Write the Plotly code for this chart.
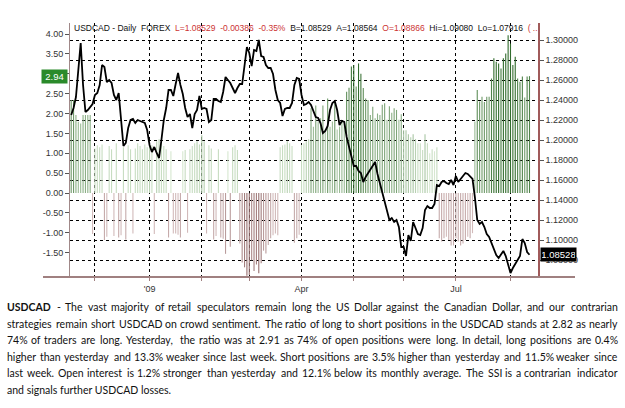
import numpy as np
import pandas as pd
import plotly.graph_objects as go

# ---------------- data ----------------
start_date = "2008-11-17"

usdcad_close = [
    1.225, 1.232, 1.243, 1.268, 1.297, 1.255, 1.228, 1.230, 1.233, 1.236,
    1.245, 1.247, 1.255, 1.275, 1.273, 1.258, 1.260, 1.257, 1.245, 1.240,
    1.247, 1.218, 1.194, 1.197, 1.212, 1.220, 1.221, 1.217, 1.220, 1.219,
    1.218, 1.217, 1.210, 1.195, 1.188, 1.193, 1.187, 1.182, 1.200, 1.220,
    1.232, 1.250, 1.250, 1.244, 1.256, 1.267, 1.255, 1.246, 1.232, 1.223,
    1.226, 1.212, 1.226, 1.230, 1.244, 1.231, 1.232, 1.231, 1.218, 1.220,
    1.241, 1.241, 1.239, 1.238, 1.248, 1.263, 1.260, 1.257, 1.252, 1.247,
    1.252, 1.256, 1.256, 1.278, 1.293, 1.287, 1.274, 1.290, 1.289, 1.300,
    1.284, 1.283, 1.275, 1.272, 1.272, 1.266, 1.250, 1.240, 1.237, 1.224,
    1.231, 1.232, 1.232, 1.237, 1.255, 1.262, 1.261, 1.245, 1.235, 1.236,
    1.238, 1.235, 1.228, 1.223, 1.222, 1.217, 1.207, 1.209, 1.214, 1.230,
    1.237, 1.239, 1.230, 1.215, 1.219, 1.218, 1.203, 1.193, 1.182, 1.174,
    1.174, 1.169, 1.167, 1.158, 1.163, 1.167, 1.171, 1.174, 1.178, 1.166,
    1.157, 1.146, 1.138, 1.128, 1.120, 1.122, 1.118, 1.120, 1.113, 1.093,
    1.093, 1.084, 1.105, 1.099, 1.118, 1.112, 1.106, 1.105, 1.112, 1.130,
    1.134, 1.132, 1.132, 1.136, 1.155, 1.154, 1.158, 1.159, 1.157, 1.156,
    1.160, 1.155, 1.164, 1.158, 1.161, 1.163, 1.167, 1.166, 1.163, 1.161,
    1.143, 1.120, 1.116, 1.118, 1.113, 1.106, 1.103, 1.097, 1.089, 1.085,
    1.082, 1.086, 1.089, 1.084, 1.076, 1.067, 1.072, 1.076, 1.081, 1.084,
    1.101, 1.097, 1.088, 1.08528,
]

ssi_ratio = [
    2.34, 2.34, 1.96, 1.79, 1.75, 1.96, 1.96, 1.96, 1.96, -1.03,
    1.12, 1.20, 1.15, 1.22, -1.18, -1.10, 1.18, 1.10, -1.08, 1.25,
    -1.12, -1.06, 1.15, -1.17, 1.20, 1.10, -1.02, 1.12, 1.25, 1.18,
    1.10, 1.22, 1.15, 1.28, 1.20, -1.03, 1.30, 1.35, 1.25, 1.18,
    1.10, -1.12, 1.05, -1.02, -1.02, -1.05, -1.12, 1.05, 1.08, -1.00,
    1.10, 1.18, 1.25, 1.30, 1.22, 1.45, 1.30, -1.02, 1.20, 1.12,
    -1.17, -1.08, 1.10, -1.12, -1.15, -1.53, 1.05, -1.35, 1.15, 1.20,
    1.08, -1.27, -1.75, -1.87, -2.08, -2.06, -1.69, -1.96, -1.80, -2.02,
    -1.77, -1.45, -1.52, -1.31, -1.14, -1.06, -1.02, -1.06, 1.15, 1.20,
    1.22, 1.30, 1.25, 1.18, -1.25, -1.14, -1.05, 1.21, 1.25, 1.30,
    1.35, 2.13, 1.67, 2.20, 1.80, 1.88, 2.20, 1.60, 2.38, 1.67,
    1.80, 2.30, 1.60, 1.67, 1.80, 1.75, 2.55, 2.65, 3.18, 3.22,
    2.68, 3.26, 3.00, 2.64, 2.38, 2.34, 1.96, 2.17, 1.88, 2.00,
    1.96, 2.22, 2.26, 1.84, 2.18, 2.02, 2.13, 2.09, 1.84, 1.98,
    1.58, 1.58, 1.48, 1.40, 1.48, 1.36, 1.25, 1.25, 1.08, 1.48,
    1.25, 1.00, 1.10, 1.05, 1.15, -1.14, -1.22, -1.14, -1.10, -1.18,
    -1.32, -1.32, -1.14, -1.22, -1.32, -1.27, -1.18, -1.10, -1.14, -1.01,
    1.80, 2.59, 2.30, 2.42, 2.29, 2.42, 2.42, 2.88, 3.39, 3.30,
    3.26, 3.13, 3.39, 3.51, 3.97, 3.76, 3.22, 3.43, 2.88, 2.80,
    2.93, 2.40, 2.93, 2.94,
]

month_ticks = ["2008-12-01", "2009-01-01", "2009-02-02", "2009-03-02", "2009-04-01",
               "2009-05-01", "2009-06-01", "2009-07-01", "2009-08-03"]
month_labels = ["", "'09", "", "", "Apr", "", "", "Jul", ""]

ssi_ticks = [4.0, 3.5, 3.0, 2.5, 2.0, 1.5, 1.0, 0.5, 0.0, -0.5, -1.0, -1.5]
price_ticks = [1.30, 1.28, 1.26, 1.24, 1.22, 1.20, 1.18, 1.16, 1.14, 1.12, 1.10, 1.08]

last_ssi = 2.94
last_price = 1.08528

header_parts = [
    ("USDCAD - Daily  FOREX  ", "#111111"),
    ("L=1.08529  -0.00386  -0.35%  ", "#cc3333"),
    ("B=1.08529  A=1.08564  ", "#111111"),
    ("O=1.08866  ", "#cc3333"),
    ("Hi=1.09080  Lo=1.07916  ", "#111111"),
    ("( ..", "#cc3333"),
]

comment_lines = [
    "USDCAD - The vast majority of retail speculators remain long the US Dollar against the Canadian Dollar, and our contrarian",
    "strategies remain short USDCAD on crowd sentiment. The ratio of long to short positions in the USDCAD stands at 2.82 as nearly",
    "74% of traders are long. Yesterday, the ratio was at 2.91 as 74% of open positions were long. In detail, long positions are 0.4%",
    "higher than yesterday and 13.3% weaker since last week. Short positions are 3.5% higher than yesterday and 11.5% weaker since",
    "last week. Open interest is 1.2% stronger than yesterday and 12.1% below its monthly average. The SSI is a contrarian indicator",
    "and signals further USDCAD losses.",
]

# ---------------- figure ----------------
dates = pd.bdate_range(start_date, periods=len(usdcad_close))
ssi = np.array(ssi_ratio)


def mix(c0, c1, t):
    return "rgb(%d,%d,%d)" % tuple(int(round(a + (b - a) * t)) for a, b in zip(c0, c1))


# bars drawn as thin vertical segments, grouped by colour shade
NPOS, NNEG = 12, 6
groups = {}
for d, v in zip(dates, ssi):
    if v >= 0:
        t = min(max((v - 1.0) / 2.3, 0), 1) ** 0.9
        key = ("p", int(round(t * (NPOS - 1))))
    else:
        t = min(max((abs(v) - 1.0) / 1.1, 0), 1)
        key = ("n", int(round(t * (NNEG - 1))))
    xs, ys = groups.setdefault(key, ([], []))
    xs += [d, d, None]
    ys += [0, v, None]

fig = go.Figure()
for (sign, k), (xs, ys) in sorted(groups.items()):
    if sign == "p":
        col = mix((214, 232, 208), (50, 108, 45), k / (NPOS - 1))
    else:
        col = mix((210, 186, 186), (150, 110, 110), k / (NNEG - 1))
    fig.add_trace(go.Scatter(x=xs, y=ys, mode="lines", yaxis="y",
                             line=dict(color=col, width=1.1), showlegend=False,
                             hoverinfo="skip", connectgaps=False))

fig.add_trace(go.Scatter(x=dates, y=usdcad_close, mode="lines", yaxis="y2",
                         line=dict(color="#000000", width=1.8), showlegend=False))

W, H = 625, 408
L, R, T, B = 70, 87, 23, 131
pw, ph = W - L - R, H - T - B


def px(x):
    return (x - L) / pw


def py(y):
    return (H - B - y) / ph


label_font = dict(family="Liberation Sans, Arial, sans-serif", size=9, color="#333333")

fig.update_layout(
    width=W, height=H,
    margin=dict(l=L, r=R, t=T, b=B, pad=0),
    paper_bgcolor="white", plot_bgcolor="white",
    xaxis=dict(
        type="date",
        range=["2008-11-14 12:00", "2009-08-18 14:00"],
        rangebreaks=[dict(bounds=["sat", "mon"])],
        tickmode="array", tickvals=month_ticks, ticktext=month_labels,
        showgrid=True, gridcolor="#000000", griddash="dot", gridwidth=1,
        ticks="outside", ticklen=3, tickcolor="#a08080",
        showline=False, zeroline=False, tickfont=label_font,
    ),
    yaxis=dict(
        range=[-2.113, 4.277],
        tickmode="array", tickvals=ssi_ticks,
        ticktext=["%.2f" % v for v in ssi_ticks],
        showgrid=False, zeroline=False,
        showline=True, linecolor="#a08888", linewidth=1,
        ticks="outside", ticklen=4, tickcolor="#555555",
        tickfont=label_font,
    ),
    yaxis2=dict(
        range=[1.063, 1.317], overlaying="y", side="right",
        tickmode="array", tickvals=price_ticks,
        ticktext=["%.5f" % v for v in price_ticks],
        showgrid=True, gridcolor="#000000", griddash="dot", gridwidth=1,
        zeroline=False,
        showline=True, linecolor="#a05a5a", linewidth=1.5,
        ticks="outside", ticklen=4, tickcolor="#555555",
        tickfont=label_font,
    ),
)

# bottom axis bar extending past both axes
fig.add_shape(type="line", xref="paper", yref="paper",
              x0=px(43), x1=px(575), y0=0, y1=0,
              line=dict(color="#a08080", width=2))

# header
header = "".join('<span style="color:%s">%s</span>' % (c, t.replace("  ", " \u00a0"))
                 for t, c in header_parts)
fig.add_annotation(xref="paper", yref="paper", x=px(72), y=py(28),
                   xanchor="left", yanchor="middle", showarrow=False,
                   text=header, font=dict(family="Liberation Sans, Arial, sans-serif", size=8.5))

# last value markers
fig.add_annotation(xref="paper", yref="y", x=px(68), y=last_ssi,
                   xanchor="right", yanchor="middle", showarrow=False,
                   text="%.2f" % last_ssi, bgcolor="#2a8a2a",
                   font=dict(family="Liberation Sans, Arial, sans-serif", size=9.5, color="white"),
                   borderpad=1, width=23, align="center")
fig.add_annotation(xref="paper", yref="y2", x=px(540), y=last_price,
                   xanchor="left", yanchor="middle", showarrow=False,
                   text="%.5f" % last_price, bgcolor="#000000",
                   font=dict(family="Liberation Sans, Arial, sans-serif", size=9.5, color="white"),
                   borderpad=1, width=33, align="center")

# ---- commentary, justified by placing each word ----
LATO_W = {
    'a': .51, 'b': .565, 'c': .46, 'd': .565, 'e': .53, 'f': .33, 'g': .51, 'h': .565,
    'i': .245, 'j': .245, 'k': .52, 'l': .245, 'm': .85, 'n': .565, 'o': .565, 'p': .565,
    'q': .565, 'r': .37, 's': .43, 't': .36, 'u': .565, 'v': .52, 'w': .78, 'x': .5,
    'y': .52, 'z': .45,
    'A': .68, 'B': .63, 'C': .66, 'D': .74, 'E': .56, 'F': .54, 'G': .71, 'H': .75,
    'I': .28, 'O': .78, 'S': .52, 'T': .58, 'U': .72, 'Y': .62,
    '0': .58, '1': .58, '2': .58, '3': .58, '4': .58, '5': .58, '6': .58, '7': .58,
    '8': .58, '9': .58, '.': .21, ',': .21, '%': .75, '-': .37,
}
FS = 10.5
CAL = 1.025
X_LEFT, X_RIGHT = 5, 620
body_font = dict(family="Lato, sans-serif", size=FS, color="#111111")


def word_w(w, bold=False):
    return sum(LATO_W.get(c, .55) for c in w) * FS * CAL * (1.06 if bold else 1.0)


for i, line in enumerate(comment_lines):
    yv = py(307 + 16.6 * i)
    if i == len(comment_lines) - 1:
        fig.add_annotation(xref="paper", yref="paper", x=px(X_LEFT), y=yv,
                           xanchor="left", yanchor="middle", showarrow=False,
                           text=line, font=body_font)
        continue
    words = line.split(" ")
    bold_flags = [(i == 0 and j == 0) for j in range(len(words))]
    widths = [word_w(w, b) for w, b in zip(words, bold_flags)]
    gap = (X_RIGHT - X_LEFT - 4 - sum(widths)) / (len(words) - 1)
    xcur = X_LEFT
    for j, (w, b, ww) in enumerate(zip(words, bold_flags, widths)):
        txt = "<b>%s</b>" % w if b else w
        if j == len(words) - 1:
            fig.add_annotation(xref="paper", yref="paper", x=px(X_RIGHT), y=yv,
                               xanchor="right", yanchor="middle", showarrow=False,
                               text=txt, font=body_font)
        else:
            fig.add_annotation(xref="paper", yref="paper", x=px(xcur), y=yv,
                               xanchor="left", yanchor="middle", showarrow=False,
                               text=txt, font=body_font)
        xcur += ww + gap

fig.write_html("out.html")
